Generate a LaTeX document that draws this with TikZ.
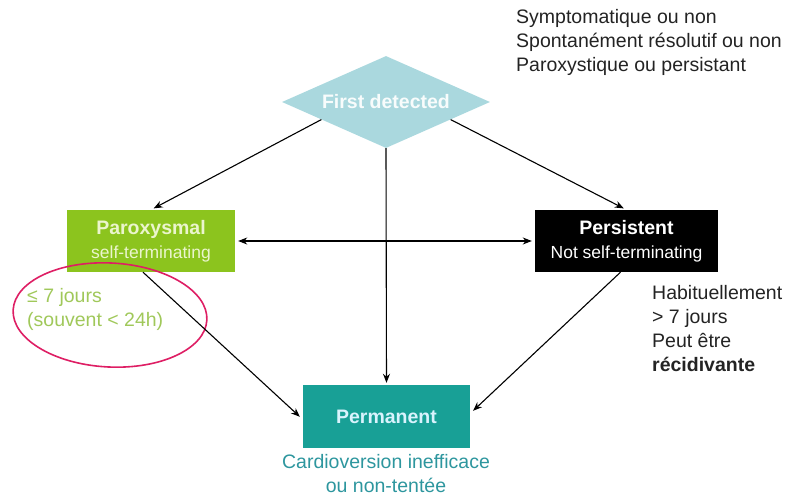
\documentclass[tikz,border=0pt]{standalone}
\usepackage{fontspec}
\setmainfont{Liberation Sans}
\usetikzlibrary{shapes.geometric,calc,arrows.meta}
\definecolor{boxgreen}{RGB}{140,196,30}
\definecolor{txtgreen}{RGB}{160,200,90}
\definecolor{paletxt}{RGB}{235,245,205}
\definecolor{tealbox}{RGB}{24,160,150}
\definecolor{tealtxt}{RGB}{45,150,158}
\definecolor{diamblue}{RGB}{170,216,222}
\definecolor{ringred}{RGB}{222,30,100}
\definecolor{greytxt}{RGB}{35,35,35}
\newcommand{\bigf}{\fontsize{19.5}{24}\selectfont}
\newcommand{\subf}{\fontsize{17.5}{24}\selectfont}
\begin{document}
\begin{tikzpicture}[x=1pt,y=-1pt,
  conn/.style={-{Stealth[length=9pt,width=7pt]},line width=1.1pt,black},
  catbox/.style={rectangle,inner sep=0pt,align=center,font=\bigf},
  note/.style={align=left,anchor=north west,inner sep=0pt,text=greytxt}]
\useasboundingbox (0,0) rectangle (795,500);
\node[diamond,aspect=2.26,fill=diamblue,minimum width=208pt,minimum height=92pt,inner sep=0pt,text=white!92!diamblue,font=\bigf\bfseries] (fd) at (386,102) {First detected};
\node[catbox,fill=boxgreen,minimum width=168pt,minimum height=62pt,text=paletxt] (par) at (151,241) {\textbf{Paroxysmal}\\{\subf self-terminating}};
\node[catbox,fill=black,minimum width=183pt,minimum height=62pt,text=white] (pers) at (626.5,241) {\textbf{Persistent}\\{\subf Not self-terminating}};
\node[catbox,fill=tealbox,minimum width=167pt,minimum height=63pt,text=white!85!cyan] (perm) at (386.5,416.5) {\textbf{Permanent}};
\node[align=center,inner sep=0pt,text=tealtxt,font=\bigf,anchor=north] (permtxt) at (386,454) {Cardioversion inefficace\\ou non-tentée};
\node[note,font=\bigf] (top) at (516,9) {Symptomatique ou non\\Spontanément résolutif ou non\\Paroxystique ou persistant};
\node[note,font=\bigf,text=txtgreen] (green) at (27,288) {≤ 7 jours\\(souvent < 24h)};
\node[note,font=\bigf] (right) at (652,285) {Habituellement\\> 7 jours\\Peut être\\\textbf{récidivante}};
\node[draw=ringred,line width=1.6pt,ellipse,minimum width=194pt,minimum height=104pt,inner sep=0pt,rotate=-3] (ring) at (110,315) {};
\coordinate (fdl) at ($(fd.west)!0.38!(fd.south)$);
\coordinate (fdr) at ($(fd.east)!0.38!(fd.south)$);
\coordinate (parb) at ($(par.south)+(-8,0)$);
\coordinate (persb) at ($(pers.south)+(-6,0)$);
\coordinate (permw) at ($(perm.west)+(0,3)$);
\coordinate (perme) at ($(perm.east)+(0,-3)$);
\draw[conn,shorten >=3pt] (fdl) -- (par.north);
\draw[conn,shorten >=3pt] (fdr) -- (pers.north);
\draw[conn,shorten >=2pt] (fd.south) -- (perm.north);
\draw[conn,{Stealth[length=9pt,width=7pt]}-{Stealth[length=9pt,width=7pt]},shorten >=3pt,shorten <=3pt] (par.east) -- (pers.west);
\draw[conn,shorten >=4pt] (parb) -- (permw);
\draw[conn,shorten >=4pt] (persb) -- (perme);
\end{tikzpicture}
\end{document}
